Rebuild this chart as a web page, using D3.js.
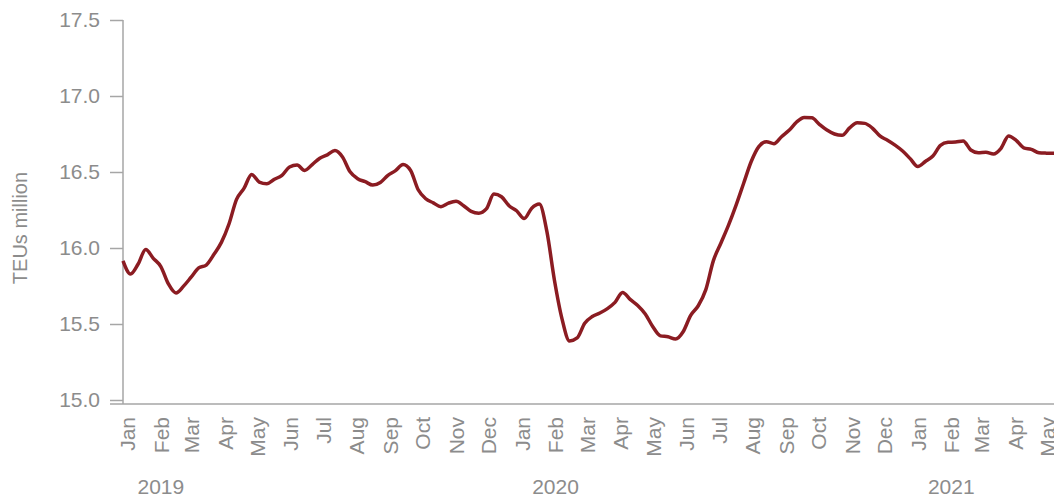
<!DOCTYPE html>
<html>
<head>
<meta charset="utf-8">
<script src="https://cdn.jsdelivr.net/npm/d3@7"></script>
<style>
  body { margin: 0; background: #fff; }
  text { font-family: "Liberation Sans", Arial, sans-serif; fill: #8c8c8c; }
</style>
</head>
<body>
<div id="chart"></div>
<script>
// weekly readings, first week starting 28 Dec 2018
var startDate = new Date(2018, 11, 28);
var teu = [15.916,15.829,15.895,15.99,15.932,15.878,15.764,15.704,15.749,15.808,
  15.869,15.888,15.957,16.037,16.158,16.320,16.394,16.484,16.434,16.423,
  16.452,16.478,16.533,16.546,16.510,16.549,16.591,16.613,16.641,16.599,
  16.501,16.456,16.436,16.414,16.431,16.478,16.509,16.549,16.510,16.383,
  16.324,16.297,16.272,16.295,16.307,16.278,16.241,16.229,16.257,16.355,
  16.337,16.278,16.245,16.194,16.262,16.289,16.109,15.788,15.534,15.388,
  15.408,15.505,15.549,15.572,15.601,15.642,15.707,15.662,15.622,15.566,
  15.482,15.422,15.416,15.401,15.449,15.557,15.620,15.726,15.917,16.033,
  16.150,16.282,16.426,16.569,16.667,16.699,16.686,16.732,16.774,16.829,
  16.859,16.857,16.814,16.776,16.750,16.741,16.790,16.824,16.820,16.789,
  16.737,16.709,16.677,16.638,16.588,16.536,16.569,16.605,16.675,16.695,
  16.697,16.704,16.645,16.627,16.630,16.618,16.656,16.737,16.708,16.659,
  16.649,16.627,16.624,16.623];

var yTicks = [15.0, 15.5, 16.0, 16.5, 17.0, 17.5];
var years = ["2019", "2020", "2021"];
var yAxisTitle = "TEUs million";

var width = 1054, height = 500;
var lineColor = "#8b1c22", axisColor = "#a6a6a6";

var data = teu.map(function(v, i) {
  return { date: d3.timeDay.offset(startDate, i * 7), value: v };
});

var x = d3.scaleTime()
  .domain([startDate, data[data.length - 1].date])
  .range([123, 1054]);

var y = d3.scaleLinear()
  .domain([15, 17.5])
  .range([400, 20]);

var svg = d3.select("#chart")
  .append("svg")
    .attr("width", width)
    .attr("height", height);

// y axis
var yAxis = svg.append("g")
  .attr("transform", "translate(123,0)")
  .call(d3.axisLeft(y).tickValues(yTicks).tickFormat(d3.format(".1f")).tickSize(13).tickPadding(10));

yAxis.select(".domain").remove();
yAxis.append("line")
  .attr("x1", 0).attr("x2", 0)
  .attr("y1", 20).attr("y2", 404)
  .attr("stroke", axisColor).attr("stroke-width", 1.5);
yAxis.selectAll(".tick line").attr("stroke", axisColor).attr("stroke-width", 1.5);
yAxis.selectAll(".tick text")
  .attr("fill", "#8c8c8c")
  .style("font-size", "21px");

svg.append("text")
  .attr("transform", "translate(27,228) rotate(-90)")
  .attr("text-anchor", "middle")
  .style("font-size", "20px")
  .text(yAxisTitle);

// x axis
svg.append("line")
  .attr("x1", 110).attr("x2", width)
  .attr("y1", 404).attr("y2", 404)
  .attr("stroke", axisColor).attr("stroke-width", 1.5);

var months = d3.timeMonth.range(new Date(2019, 0, 1), new Date(2021, 5, 1));

var xAxis = svg.append("g")
  .attr("transform", "translate(0,404)")
  .call(d3.axisBottom(x).tickValues(months).tickFormat(d3.timeFormat("%b")).tickSize(0));

xAxis.select(".domain").remove();
xAxis.selectAll(".tick text")
  .attr("fill", "#8c8c8c")
  .attr("y", 0)
  .attr("x", -13)
  .attr("dy", "0.35em")
  .attr("transform", "rotate(-90)")
  .style("text-anchor", "end")
  .style("font-size", "21px");

svg.selectAll(".year_label")
  .data(years).enter()
  .append("text")
    .attr("class", "year_label")
    .attr("x", function(d) { return x(new Date(+d, 1, 1)); })
    .attr("y", 494)
    .attr("text-anchor", "middle")
    .style("font-size", "21px")
    .text(function(d) { return d; });

// the line
var line = d3.line()
  .x(function(d) { return x(d.date); })
  .y(function(d) { return y(d.value); })
  .curve(d3.curveMonotoneX);

svg.append("path")
  .datum(data)
  .attr("fill", "none")
  .attr("stroke", lineColor)
  .attr("stroke-width", 3.5)
  .attr("stroke-linejoin", "round")
  .attr("d", line);
</script>
</body>
</html>
